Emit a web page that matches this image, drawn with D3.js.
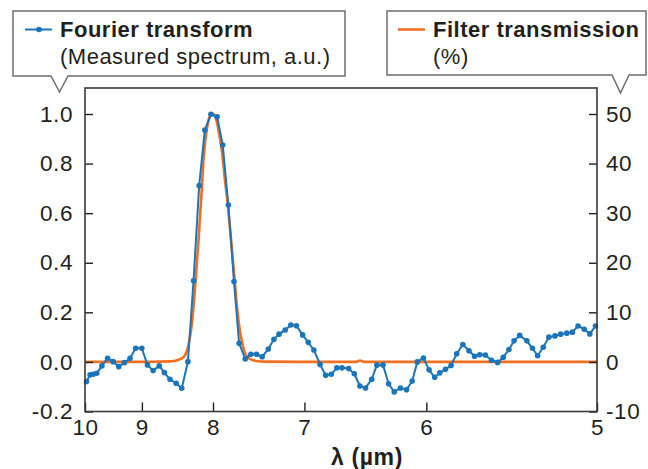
<!DOCTYPE html>
<html>
<head>
<meta charset="utf-8">
<script src="https://cdn.jsdelivr.net/npm/d3@7"></script>
<style>
  body { margin: 0; background: #fff; }
  svg { display: block; font-family: "Liberation Sans", Arial, Helvetica, sans-serif; }
</style>
</head>
<body>
<svg id="chart" width="648" height="469"></svg>
<script>
// Fourier transform, measured spectrum (a.u.) - x is wavenumber in cm^-1 (= 1e4 / lambda)
const ftNu = [1003, 1010, 1016, 1023, 1033, 1044, 1055, 1066, 1077, 1088, 1099, 1111, 1122, 1133, 1145, 1155,
  1166, 1178, 1189, 1201, 1212, 1223, 1234, 1246, 1258, 1269, 1280, 1291, 1301, 1313, 1324, 1335, 1346, 1358,
  1369, 1379, 1391, 1402, 1413, 1425, 1436, 1447, 1459, 1470, 1481, 1492, 1502, 1515, 1526, 1537, 1548, 1560,
  1570, 1582, 1593, 1604, 1616, 1628, 1639, 1649, 1661, 1672, 1683, 1693, 1704, 1715, 1726, 1738, 1750, 1761,
  1771, 1782, 1794, 1806, 1817, 1828, 1838, 1849, 1863, 1874, 1884, 1895, 1906, 1918, 1929, 1941, 1952, 1963,
  1975, 1986, 1997];
const ftVal = [-0.079, -0.052, -0.050, -0.046, -0.016, 0.015, 0.001, -0.019, -0.003, 0.015, 0.055, 0.055, -0.012,
  -0.035, -0.016, -0.043, -0.070, -0.086, -0.106, 0.001, 0.327, 0.711, 0.935, 0.999, 0.989, 0.875, 0.633, 0.324,
  0.075, 0.012, 0.031, 0.031, 0.021, 0.052, 0.091, 0.112, 0.129, 0.149, 0.146, 0.109, 0.079, 0.048, -0.010,
  -0.054, -0.050, -0.024, -0.024, -0.027, -0.048, -0.097, -0.105, -0.070, -0.013, -0.012, -0.088, -0.121, -0.105,
  -0.112, -0.077, 0.000, 0.016, -0.032, -0.062, -0.044, -0.030, -0.014, 0.033, 0.070, 0.045, 0.023, 0.029, 0.028,
  0.007, -0.002, 0.019, 0.050, 0.085, 0.107, 0.085, 0.055, 0.025, 0.059, 0.100, 0.105, 0.112, 0.116, 0.120,
  0.145, 0.132, 0.113, 0.145];

// Filter transmission (%)
const filterNu = [1000, 1127, 1166, 1182, 1193, 1199, 1205, 1209, 1215, 1221, 1227, 1232, 1238, 1244, 1250, 1256,
  1262, 1268, 1273, 1279, 1285, 1291, 1297, 1303, 1309, 1314, 1322, 1334, 1352, 1420, 1530, 1537, 1545, 1615, 1811, 2000];
const filterPct = [0, 0, 0.1, 0.4, 1.0, 2.2, 5, 8, 15, 23.5, 33, 41.5, 47, 49.5, 50, 49, 46, 42, 37, 31.5, 25, 18,
  11, 6, 3, 1.5, 0.6, 0.2, 0.05, 0, 0, 0.3, 0, 0, 0, 0];

// Tick labels
const lambdaTicks = [10, 9, 8, 7, 6, 5];
const leftTicks = [-0.2, 0, 0.2, 0.4, 0.6, 0.8, 1.0];
const rightTicks = [-10, 0, 10, 20, 30, 40, 50];

const BLUE = "#1a75bb";
const ORANGE = "#f26f21";
const INK = "#231f20";
const BOX = "#6d6e71";

const svg = d3.select("#chart");

const plot = { left: 85, right: 597, top: 88, bottom: 411.5 };

const x = d3.scaleLinear().domain([1000, 2000]).range([plot.left, plot.right]);
const yL = d3.scaleLinear().domain([-0.2, 1.0]).range([plot.bottom, 114]);
const yR = d3.scaleLinear().domain([-10, 50]).range([plot.bottom, 114]);

const ftData = ftNu.map((n, i) => ({ n, v: ftVal[i] }));
const filterData = filterNu.map((n, i) => ({ n, v: filterPct[i] }));

// filter curve
svg.append("path")
  .datum(filterData)
  .attr("fill", "none")
  .attr("stroke", ORANGE)
  .attr("stroke-width", 2.6)
  .attr("d", d3.line().x(d => x(d.n)).y(d => yR(d.v)).curve(d3.curveMonotoneX));

// measured spectrum
svg.append("path")
  .datum(ftData)
  .attr("fill", "none")
  .attr("stroke", BLUE)
  .attr("stroke-width", 2)
  .attr("stroke-linejoin", "round")
  .attr("d", d3.line().x(d => x(d.n)).y(d => yL(d.v)));

svg.append("g")
  .selectAll("circle")
  .data(ftData)
  .join("circle")
  .attr("cx", d => x(d.n))
  .attr("cy", d => yL(d.v))
  .attr("r", 2.8)
  .attr("fill", BLUE);

// axes (ticks point inward)
const fmtL = d => d.toFixed(1);
const fmtR = d => String(d);

const gLeft = svg.append("g")
  .attr("transform", `translate(${plot.left},0)`)
  .call(d3.axisLeft(yL).tickValues(leftTicks).tickFormat(fmtL).tickSize(-8).tickPadding(12));

const gRight = svg.append("g")
  .attr("transform", `translate(${plot.right},0)`)
  .call(d3.axisRight(yR).tickValues(rightTicks).tickFormat(fmtR).tickSize(-8).tickPadding(9));

const gBottom = svg.append("g")
  .attr("transform", `translate(0,${plot.bottom})`)
  .call(d3.axisBottom(x).tickValues(lambdaTicks.map(l => 1e4 / l)).tickFormat((d, i) => lambdaTicks[i]).tickSize(-9).tickPadding(8));

[gLeft, gRight, gBottom].forEach(g => {
  g.select(".domain").remove();
  g.selectAll("line").attr("stroke", INK).attr("stroke-width", 1.4);
  g.selectAll("text").attr("fill", INK)
    .style("font-size", "22.5px")
    .style("letter-spacing", "0.6px")
    .style("font-family", "inherit");
});

// frame
svg.append("rect")
  .attr("x", plot.left)
  .attr("y", plot.top)
  .attr("width", plot.right - plot.left)
  .attr("height", plot.bottom - plot.top)
  .attr("fill", "none")
  .attr("stroke", "#3a3a3a")
  .attr("stroke-width", 1.6);

// x axis title
svg.append("text")
  .attr("x", 367)
  .attr("y", 465)
  .attr("text-anchor", "middle")
  .attr("fill", INK)
  .style("font-size", "23px")
  .style("letter-spacing", "0.6px")
  .style("font-weight", "bold")
  .text("λ (µm)");

// callout legends
function callout(path, swatch, title, sub, tx) {
  svg.append("path")
    .attr("d", path)
    .attr("fill", "#fff")
    .attr("stroke", BOX)
    .attr("stroke-width", 1.5);
  swatch();
  svg.append("text")
    .attr("x", tx).attr("y", 37)
    .attr("fill", INK)
    .style("font-size", "22px")
    .style("letter-spacing", "0.5px")
    .style("font-weight", "bold")
    .text(title);
  svg.append("text")
    .attr("x", tx).attr("y", 64)
    .attr("fill", INK)
    .style("font-size", "22px")
    .style("letter-spacing", "0.5px")
    .text(sub);
}

callout("M13,11H345V76H68L59.5,92L51,76H13Z", () => {
  svg.append("line").attr("x1", 25).attr("x2", 52).attr("y1", 29.5).attr("y2", 29.5)
    .attr("stroke", BLUE).attr("stroke-width", 2);
  svg.append("circle").attr("cx", 39).attr("cy", 29.5).attr("r", 2.8).attr("fill", BLUE);
}, "Fourier transform", "(Measured spectrum, a.u.)", 60);

callout("M387,11H646V75H629L620.5,93L612,75H387Z", () => {
  svg.append("line").attr("x1", 398).attr("x2", 425).attr("y1", 29.5).attr("y2", 29.5)
    .attr("stroke", ORANGE).attr("stroke-width", 2.6);
}, "Filter transmission", "(%)", 433);
</script>
</body>
</html>
